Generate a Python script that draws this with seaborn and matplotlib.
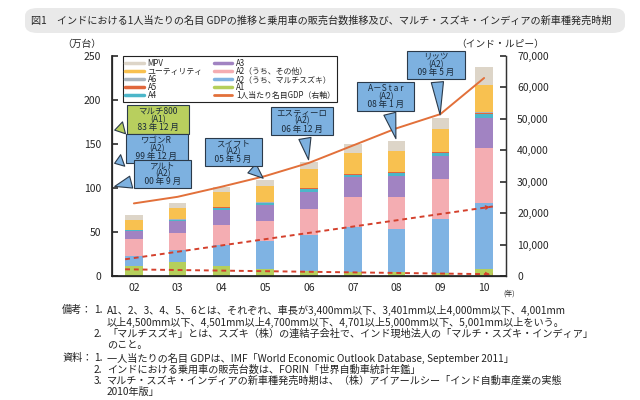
import matplotlib
matplotlib.use("Agg")
import matplotlib.pyplot as plt
import matplotlib.transforms as mtransforms
from matplotlib.lines import Line2D
from matplotlib.patches import FancyBboxPatch
import seaborn as sns
import numpy as np

# --- data (万台 / インド・ルピー) ---
years = ["02", "03", "04", "05", "06", "07", "08", "09", "10"]
a1 = [11, 16, 11.5, 7.5, 6, 4.5, 4, 3, 7.5]
a2_maruti = [12, 14, 24, 32.5, 40.5, 51.5, 49, 62, 75]
a2_other = [19, 18.5, 22.5, 23, 30, 34, 37, 45, 62.5]
a3 = [9, 13.5, 17, 17.5, 19.5, 22, 24, 26, 34]
a4 = [1, 1.5, 2.5, 2.5, 3, 3, 3.5, 4, 5]
a5 = [0.3, 0.5, 0.5, 0.5, 0.5, 0.5, 0.5, 0.5, 1.5]
a6 = [0.5, 0.5, 0.5, 0.5, 0.5, 0.5, 0.5, 0.5, 0.5]
utility = [11, 13, 16.5, 18.5, 21.5, 23.5, 23.5, 26, 31]
mpv = [5, 5.5, 6.5, 6.5, 7.5, 10, 11, 13, 21]
gdp = [23100, 25200, 28400, 31800, 36000, 41500, 47000, 51500, 63000]

# trend arrows (left axis units)
trend_x = [-0.2, 8.2]
upper_trend = [19, 79]
lower_trend = [7.6, 2.0]

# launch callouts
launch_text = ["マルチ800\n(A1)\n83 年 12 月", "ワゴンR\n(A2)\n99 年 12 月",
               "アルト\n(A2)\n00 年 9 月", "スイフト\n(A2)\n05 年 5 月",
               "エスティーロ\n(A2)\n06 年 12 月", "A－S t a r\n(A2)\n08 年 1 月",
               "リッツ\n(A2)\n09 年 5 月"]
launch_bar = [None, None, None, "05", "06", "08", "09"]
launch_axis_y = [165, 127, 101]
launch_box_x = [0.55, 0.52, 0.66, 2.27, 3.84, 5.75, 6.9]
launch_box_y = [178, 145, 116, 141, 176, 204, 240]
launch_color = ["#b8cf5e", "#7db1e0", "#7db1e0", "#7db1e0", "#7db1e0", "#7db1e0", "#7db1e0"]

layers = [
    ("A1", a1, "#b5cf5b"),
    ("A2（うち、マルチスズキ）", a2_maruti, "#7fb3e3"),
    ("A2（うち、その他）", a2_other, "#f4adb2"),
    ("A3", a3, "#a183c2"),
    ("A4", a4, "#4cb6c9"),
    ("A5", a5, "#e0673c"),
    ("A6", a6, "#aab4bd"),
    ("ユーティリティ", utility, "#f8c150"),
    ("MPV", mpv, "#ddd5c8"),
]
gdp_color = "#e2703a"
trend_color = "#d4402c"

sns.set_theme(style="white")
plt.rcParams["font.family"] = ["Noto Sans CJK JP", "DejaVu Sans"]

fig = plt.figure(figsize=(6.4, 4), dpi=100)
ax = fig.add_axes([112 / 640, 1 - 276 / 400, 394 / 640, 220 / 400])

# stacked bars: draw cumulative totals from the top layer down
cums = np.cumsum([np.array(v, dtype=float) for _, v, _ in layers], axis=0)
for (name, _, color), cum in reversed(list(zip(layers, cums))):
    sns.barplot(x=years, y=cum, color=color, saturation=1, width=0.4,
                linewidth=0, errorbar=None, ax=ax)
totals = cums[-1]

# trend arrows
for yvals in (upper_trend, lower_trend):
    sns.lineplot(x=trend_x, y=yvals, ax=ax, color=trend_color, lw=1.4,
                 linestyle=(0, (2.5, 2)), zorder=5)
    ax.annotate("", xy=(trend_x[1], yvals[1]), xytext=(trend_x[0], yvals[0]),
                arrowprops=dict(arrowstyle="-|>", color=trend_color, lw=0,
                                mutation_scale=9), zorder=5)

ax.set_xlim(-0.5, 8.5)
ax.set_ylim(0, 250)
ax.set_yticks(range(0, 251, 50))
ax.set_xticks(np.arange(len(years)))
ax.set_xticklabels(years)
ax.set_xticks(np.arange(len(years) - 1) + 0.5, minor=True)
ax.tick_params(axis="x", which="major", length=0, labelsize=7.5, pad=5)
ax.tick_params(axis="x", which="minor", direction="in", length=3, color="#333")
ax.tick_params(axis="y", direction="in", length=4, labelsize=7.5, color="#333", pad=8)
ax.set_xlabel("")
ax.set_ylabel("")
for s in ("left", "right", "bottom"):
    ax.spines[s].set_color("#333")
    ax.spines[s].set_linewidth(0.9)
ax.spines["top"].set_visible(False)

# GDP on right axis
ax2 = ax.twinx()
sns.lineplot(x=np.arange(len(years)), y=gdp, ax=ax2, color=gdp_color, lw=1.4)
ax2.set_ylim(0, 70000)
ax2.set_yticks(range(0, 70001, 10000))
ax2.set_yticklabels([f"{v:,}" for v in range(0, 70001, 10000)])
ax2.tick_params(axis="y", direction="in", length=4, labelsize=7.5, color="#333", pad=8)
ax2.set_ylabel("")
ax2.spines["top"].set_visible(False)
ax2.spines["right"].set_color("#333")
ax2.spines["right"].set_linewidth(0.9)
ax2.grid(False)
ax.set_xlim(-0.5, 8.5)

# callouts (full-width spaces widen the boxes like the original)
axis_tf = mtransforms.blended_transform_factory(ax.transAxes, ax.transData)
for i, txt in enumerate(launch_text):
    if launch_bar[i] is None:
        xy, xyc = (0, launch_axis_y[i]), axis_tf
    else:
        xy, xyc = (years.index(launch_bar[i]), totals[years.index(launch_bar[i])]), ax.transData
    lines = txt.split("\n")
    lines[-1] = "　" + lines[-1] + "　"
    ax2.annotate("\n".join(lines), xy=xy, xycoords=xyc,
                 xytext=(launch_box_x[i], launch_box_y[i]), textcoords=ax.transData,
                 ha="center", va="center", fontsize=6.1, linespacing=0.85,
                 color="#1a2a3a", zorder=10,
                 bbox=dict(boxstyle="square,pad=0.2", fc=launch_color[i],
                           ec="#2b3a4a", lw=0.8),
                 arrowprops=dict(arrowstyle="wedge,tail_width=0.8", fc=launch_color[i],
                                 ec="#2b3a4a", lw=0.8, mutation_scale=11))

# legend
handles = [Line2D([], [], color=c, lw=2.5) for _, _, c in reversed(layers)]
labels = [n for n, _, _ in reversed(layers)]
handles.append(Line2D([], [], color=gdp_color, lw=2))
labels.append("1人当たり名目GDP（右軸）")
leg = ax2.legend(handles, labels, ncol=2, loc="upper left",
                 bbox_to_anchor=(0.028, 0.998), borderaxespad=0, fontsize=5.7,
                 labelspacing=-0.12, handlelength=2.3, handletextpad=0.5,
                 columnspacing=1.4, borderpad=0.3, fancybox=False, framealpha=1,
                 edgecolor="#222")
leg.get_frame().set_linewidth(0.8)

# axis captions
fig.text(82 / 640, 1 - 44 / 400, "（万台）", fontsize=7, ha="center", va="center")
fig.text(500 / 640, 1 - 44 / 400, "（インド・ルピー）", fontsize=7, ha="center", va="center")
fig.text(509 / 640, 1 - 294 / 400, "(年)", fontsize=5, ha="center", va="center")

# title banner
fig.patches.append(FancyBboxPatch((25 / 640, 1 - 33 / 400), 600 / 640, 25 / 400,
                                  boxstyle="round,pad=0,rounding_size=0.02",
                                  transform=fig.transFigure, fc="#e9e9e9", ec="none"))
fig.text(31 / 640, 1 - 20.5 / 400,
         "図1　インドにおける1人当たりの名目 GDPの推移と乗用車の販売台数推移及び、マルチ・スズキ・インディアの新車種発売時期",
         fontsize=7.3, ha="left", va="center")

# notes
notes = [
    (62, 310, "備考："), (94, 310, "1."),
    (107, 310, "A1、2、3、4、5、6とは、それぞれ、車長が3,400mm以下、3,401mm以上4,000mm以下、4,001mm"),
    (107, 322, "以上4,500mm以下、4,501mm以上4,700mm以下、4,701以上5,000mm以下、5,001mm以上をいう。"),
    (94, 334, "2."), (107, 334, "「マルチスズキ」とは、スズキ（株）の連結子会社で、インド現地法人の「マルチ・スズキ・インディア」"),
    (107, 345, "のこと。"),
    (62, 358, "資料："), (94, 358, "1."),
    (107, 358, "一人当たりの名目 GDPは、IMF「World Economic Outlook Database, September 2011」"),
    (94, 370, "2."), (107, 370, "インドにおける乗用車の販売台数は、FORIN「世界自動車統計年鑑」"),
    (94, 381, "3."), (107, 381, "マルチ・スズキ・インディアの新車種発売時期は、（株）アイアールシー「インド自動車産業の実態"),
    (107, 392, "2010年版」"),
]
for x, y, t in notes:
    fig.text(x / 640, 1 - y / 400, t, fontsize=7.3, ha="left", va="center", color="#222")

fig.savefig("out.png", dpi=100)
